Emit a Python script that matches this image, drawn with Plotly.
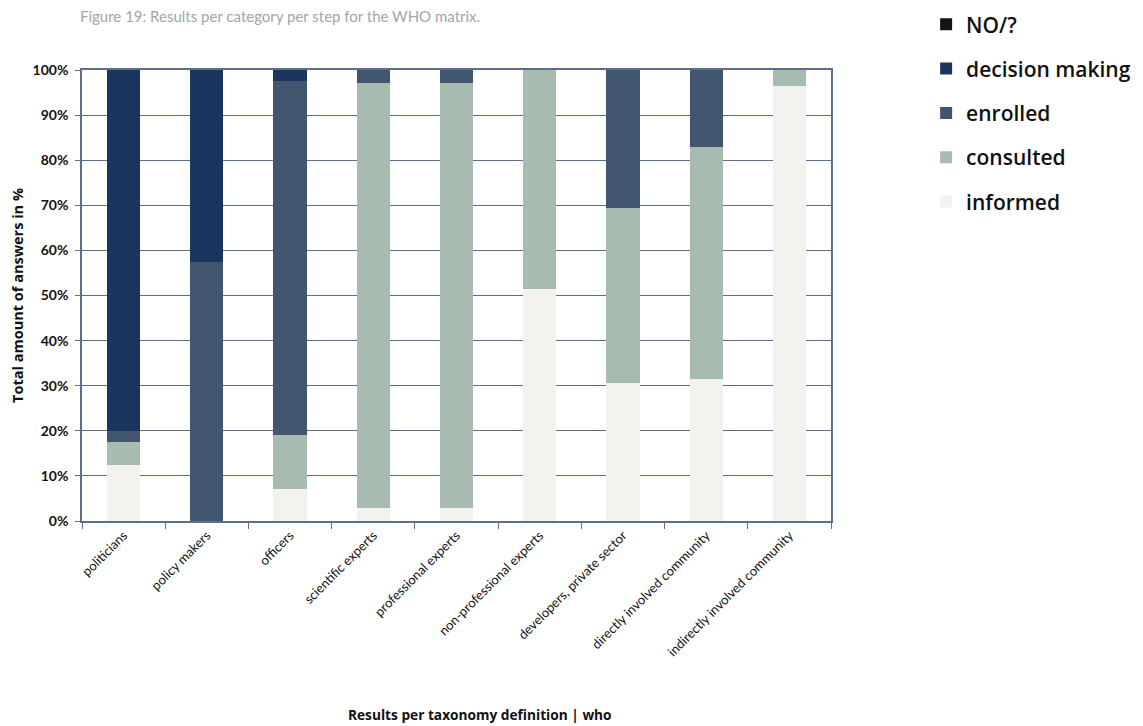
import plotly.graph_objects as go

categories = ["politicians", "policy makers", "officers", "scientific experts",
              "professional experts", "non-professional experts",
              "developers, private sector", "directly involved community",
              "indirectly involved community"]

informed = [12.5, 0, 7.1, 2.9, 2.9, 51.5, 30.5, 31.5, 96.4]
consulted = [5.0, 0, 11.9, 94.2, 94.2, 48.5, 39.0, 51.4, 3.6]
enrolled = [2.5, 57.5, 78.6, 2.9, 2.9, 0, 30.5, 17.1, 0]
decision_making = [80.0, 42.5, 2.4, 0, 0, 0, 0, 0, 0]
no_answer = [0, 0, 0, 0, 0, 0, 0, 0, 0]

series = [
    ("informed", informed, "#f2f3ee", 5),
    ("consulted", consulted, "#a7bbb0", 4),
    ("enrolled", enrolled, "#42566f", 3),
    ("decision making", decision_making, "#1c355e", 2),
    ("NO/?", no_answer, "#111517", 1),
]

fig = go.Figure()
for name, vals, col, rank in series:
    fig.add_trace(go.Bar(x=categories, y=vals, name=name, marker_color=col,
                         marker_line_width=0, legendgroup=name, legendrank=rank))

axis_col = "#5d6e88"
fig.update_layout(
    barmode="stack",
    bargap=0.6,
    width=1143, height=726,
    margin=dict(l=74, r=320, t=62, b=213, autoexpand=False),
    plot_bgcolor="white", paper_bgcolor="white",
    font=dict(family="Lato, sans-serif", color="#111"),
    title=dict(text="Figure 19: Results per category per step for the WHO matrix.",
               x=72 / 1143, xref="container", xanchor="left",
               y=1 - 3 / 726, yref="container", yanchor="top",
               font=dict(size=15, color="#a5a5a5", family="Lato")),
    legend=dict(x=1.127, xanchor="left", y=1.146, yanchor="top",
                traceorder="grouped", tracegroupgap=14,
                font=dict(size=21, family="Open Sans", color="#111", weight=600),
                itemwidth=30, bgcolor="rgba(0,0,0,0)"),
    showlegend=True,
    annotations=[dict(text="<b>Results per taxonomy definition | who</b>",
                      xref="paper", yref="paper", x=0.531, y=-0.43,
                      xanchor="center", yanchor="middle", showarrow=False,
                      font=dict(size=13.7, family="Open Sans", color="#111"))],
)
fig.update_xaxes(
    showline=True, linecolor=axis_col, linewidth=1.5, mirror=True,
    ticks="outside", tickson="boundaries", ticklen=6, tickcolor=axis_col,
    tickangle=-45, tickfont=dict(size=13, family="Lato", color="#111"),
    showgrid=False,
)
fig.update_yaxes(
    range=[0, 100], dtick=10, ticksuffix="%",
    showline=True, linecolor=axis_col, linewidth=1.5, mirror=True,
    ticks="outside", ticklen=5, tickcolor=axis_col, ticklabelstandoff=4,
    showgrid=True, gridcolor=axis_col, gridwidth=1,
    tickfont=dict(size=14, family="Lato", color="#111", weight="bold"),
    title=dict(text="<b>Total amount of answers in %</b>",
               font=dict(size=14.5, family="Open Sans", color="#111"), standoff=6),
)

fig.write_html("out.html")
